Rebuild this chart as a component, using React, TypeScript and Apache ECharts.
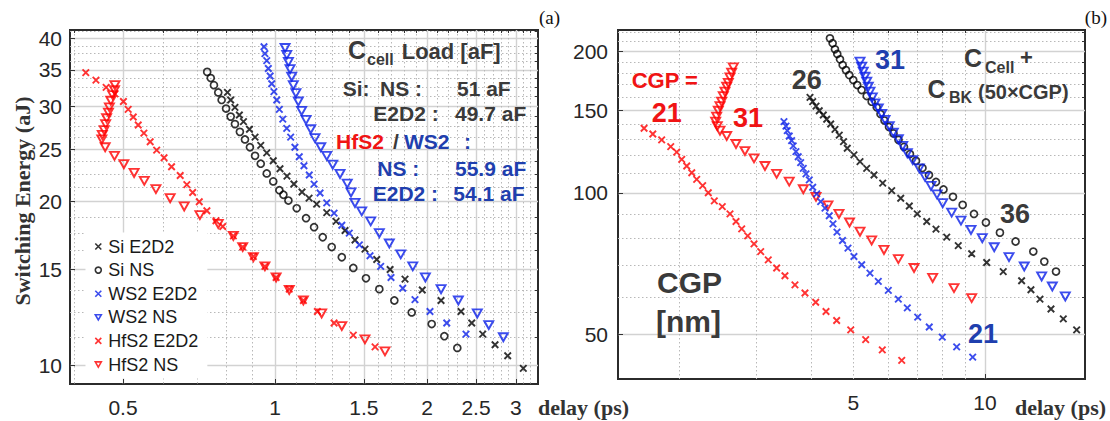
import React, { useEffect, useRef } from 'react';
import * as echarts from 'echarts';

// ---------- Panel (a): delay (ps) vs switching energy (aJ) ----------
const aSiE2D2: [number, number][] = [[0.805,31.8],[0.817,30.8],[0.833,29.85],[0.850,28.9],[0.866,28.1],[0.890,27.2],[0.913,26.3],[0.937,25.4],[0.963,24.6],[0.992,23.8],[1.023,23.0],[1.056,22.3],[1.090,21.56],[1.131,20.84],[1.168,20.31],[1.209,19.8],[1.266,19.1],[1.321,18.4],[1.376,17.7],[1.440,17.0],[1.507,16.35],[1.590,15.65],[1.690,15.0],[1.809,14.4],[1.957,13.75],[2.132,13.15],[2.335,12.55],[2.452,11.95],[2.578,11.4],[2.727,10.9],[2.889,10.4],[3.102,9.86]];
const aSiNS: [number, number][] = [[0.734,34.7],[0.746,33.8],[0.757,32.8],[0.772,31.8],[0.784,30.8],[0.800,29.7],[0.817,28.7],[0.833,27.8],[0.852,26.9],[0.872,26.05],[0.892,25.2],[0.913,24.3],[0.937,23.5],[0.963,22.55],[0.992,21.8],[1.020,21.0],[1.039,20.6],[1.063,20.1],[1.104,19.45],[1.152,18.65],[1.195,17.95],[1.243,17.2],[1.295,16.5],[1.356,15.8],[1.429,15.1],[1.514,14.45],[1.609,13.8],[1.723,13.15],[1.865,12.5],[2.043,11.9],[2.164,11.3],[2.296,10.75]];
const aWS2E2D2: [number, number][] = [[0.951,38.6],[0.955,37.5],[0.963,36.4],[0.970,35.2],[0.978,34.1],[0.985,33.0],[0.995,31.9],[1.008,30.8],[1.020,29.6],[1.036,28.4],[1.055,27.3],[1.074,26.3],[1.095,25.2],[1.117,24.2],[1.141,23.3],[1.169,22.4],[1.195,21.55],[1.228,20.75],[1.266,19.9],[1.309,19.05],[1.356,18.1],[1.403,17.5],[1.469,16.65],[1.542,15.9],[1.619,15.2],[1.697,14.5],[1.790,13.85],[1.893,13.2],[2.027,12.55],[2.188,11.95],[2.389,11.4]];
const aWS2NS: [number, number][] = [[1.047,38.4],[1.055,37.3],[1.063,36.2],[1.071,35.1],[1.079,34.0],[1.087,32.8],[1.100,31.7],[1.112,30.6],[1.129,29.4],[1.152,28.3],[1.177,27.2],[1.200,26.2],[1.232,25.2],[1.266,24.3],[1.301,23.4],[1.345,22.5],[1.390,21.6],[1.414,20.8],[1.440,19.9],[1.485,19.2],[1.547,18.4],[1.609,17.5],[1.684,16.75],[1.774,16.0],[1.874,15.2],[1.985,14.5],[2.132,13.8],[2.307,13.15],[2.515,12.45],[2.650,11.85],[2.832,11.25]];
const aHfS2E2D2: [number, number][] = [[0.422,34.6],[0.442,33.5],[0.463,32.5],[0.482,31.6],[0.501,30.6],[0.512,29.6],[0.524,28.65],[0.536,27.7],[0.550,26.75],[0.566,25.8],[0.583,24.9],[0.603,24.1],[0.624,23.2],[0.649,22.35],[0.669,21.5],[0.687,20.8],[0.708,20.0],[0.733,19.25],[0.764,18.45],[0.788,18.0],[0.827,17.3],[0.863,16.5],[0.906,15.85],[0.955,15.2],[1.005,14.5],[1.067,13.8],[1.138,13.15],[1.213,12.55],[1.309,11.95],[1.429,11.35],[1.578,10.8]];
const aHfS2NS: [number, number][] = [[0.482,32.8],[0.481,32.1],[0.477,31.45],[0.473,30.7],[0.470,29.85],[0.468,29.2],[0.464,28.5],[0.462,27.8],[0.459,27.1],[0.455,26.55],[0.454,26.05],[0.461,25.2],[0.481,24.3],[0.502,23.45],[0.526,22.6],[0.551,21.85],[0.581,21.1],[0.620,20.3],[0.661,19.6],[0.710,18.9],[0.772,18.2],[0.827,17.3],[0.863,16.5],[0.906,15.8],[0.955,15.2],[1.005,14.5],[1.067,13.75],[1.138,13.15],[1.237,12.45],[1.356,11.8],[1.507,11.15],[1.651,10.6]];

// ---------- Panel (b): delay (ps) vs energy, CGP sweep ----------
const bHfS2E2D2: [number, number][] = [[1.659,137.3],[1.737,133.5],[1.820,129.7],[1.909,125.5],[1.970,122.1],[2.023,117.9],[2.077,114.1],[2.133,110.4],[2.189,106.9],[2.259,103.6],[2.327,100.1],[2.402,96.2],[2.505,93.5],[2.609,90.2],[2.693,86.9],[2.775,83.8],[2.864,81.0],[2.961,77.9],[3.067,75.0],[3.192,72.0],[3.336,69.2],[3.485,66.6],[3.674,63.7],[3.873,61.2],[4.098,58.5],[4.327,55.9],[4.577,53.5],[4.929,51.1],[5.333,48.7],[5.821,46.3],[6.449,44.0]];
const bHfS2NS: [number, number][] = [[2.655,185.1],[2.632,180.3],[2.609,176.2],[2.586,171.6],[2.564,168.3],[2.541,164.3],[2.518,160.8],[2.497,156.4],[2.475,153.1],[2.453,149.6],[2.432,145.3],[2.419,141.8],[2.440,138.8],[2.475,135.7],[2.564,132.2],[2.693,127.1],[2.823,122.8],[2.961,118.5],[3.137,114.1],[3.336,109.8],[3.565,105.7],[3.839,101.8],[4.105,98.1],[4.372,94.1],[4.633,90.2],[4.898,86.5],[5.176,82.7],[5.504,79.2],[5.873,75.6],[6.335,72.3],[6.881,69.2],[7.591,65.9],[8.494,62.7],[9.323,59.7]];
const bWS2E2D2: [number, number][] = [[3.467,141.8],[3.504,138.8],[3.528,135.7],[3.565,132.2],[3.610,129.2],[3.641,125.9],[3.693,122.4],[3.738,119.4],[3.786,116.0],[3.839,112.8],[3.894,109.8],[3.962,106.6],[4.034,102.8],[4.120,99.5],[4.207,95.8],[4.304,92.8],[4.402,89.4],[4.489,85.9],[4.585,82.5],[4.720,79.2],[4.858,76.3],[5.013,73.2],[5.222,70.3],[5.455,67.5],[5.700,64.8],[6.009,62.0],[6.335,59.4],[6.642,56.9],[7.015,54.4],[7.456,51.8],[7.985,49.3],[8.614,47.0],[9.373,44.7]];
const bSiE2D2: [number, number][] = [[3.977,159.8],[4.034,156.4],[4.105,153.1],[4.176,149.6],[4.266,146.5],[4.343,143.5],[4.435,140.2],[4.536,136.6],[4.640,132.8],[4.745,128.6],[4.840,124.5],[5.013,120.5],[5.176,116.6],[5.362,112.8],[5.572,109.2],[5.833,104.9],[6.117,101.1],[6.415,97.4],[6.712,93.8],[6.998,90.2],[7.357,86.9],[7.725,83.7],[8.174,80.5],[8.687,77.2],[9.323,74.2],[10.09,71.1],[11.01,68.0],[12.13,65.0],[12.74,62.2],[13.36,59.4],[14.16,56.6],[15.11,53.9],[16.21,51.1]];
const bSiNS: [number, number][] = [[4.418,213.4],[4.481,208.3],[4.536,202.2],[4.592,197.6],[4.658,192.5],[4.724,187.2],[4.807,182.6],[4.891,178.2],[4.995,173.9],[5.101,169.7],[5.220,165.6],[5.362,160.8],[5.504,156.4],[5.652,152.2],[5.766,147.3],[5.889,142.6],[6.031,138.2],[6.176,133.9],[6.340,129.7],[6.526,125.3],[6.735,121.0],[6.953,117.0],[7.194,113.0],[7.444,109.2],[7.725,105.5],[8.036,101.7],[8.448,98.1],[8.891,94.3],[9.437,90.2],[10.05,86.5],[10.82,82.3],[11.75,78.8],[12.90,75.0],[13.67,71.4],[14.54,68.0]];
const bWS2NS: [number, number][] = [[5.176,190.3],[5.220,185.7],[5.265,181.2],[5.312,176.8],[5.362,172.5],[5.407,168.3],[5.455,164.3],[5.522,159.8],[5.601,155.2],[5.700,151.4],[5.803,147.3],[5.905,143.0],[6.039,138.8],[6.169,134.4],[6.335,130.1],[6.482,125.9],[6.642,121.5],[6.834,117.5],[7.075,112.8],[7.291,108.2],[7.524,103.5],[7.765,99.3],[8.003,95.1],[8.390,90.8],[8.812,87.3],[9.289,83.4],[9.859,80.1],[10.50,76.6],[11.35,73.0],[12.30,69.7],[13.48,66.4],[14.26,63.2],[15.27,60.2]];

// ---------- Ticks ----------
const aXTicks = [0.5, 1, 1.5, 2, 2.5, 3];
const aXMinor = [0.4, 0.6, 0.7, 0.8, 0.9, 1.1, 1.2, 1.3, 1.4, 1.6, 1.7, 1.8, 1.9, 2.1, 2.2, 2.3, 2.4, 2.6, 2.7, 2.8, 2.9, 3.1, 3.2];
const aYTicks = [10, 15, 20, 25, 30, 35, 40];
const aYMinor = [11.25, 12.5, 13.75, 16.25, 17.5, 18.75, 21.25, 22.5, 23.75, 26.25, 27.5, 28.75, 31.25, 32.5, 33.75, 36.25, 37.5, 38.75, 41.25];
const bXTicks = [5, 10];
const bXMajorGrid = [10];
const bXMinor = [2, 3, 4, 5, 6, 7, 8, 9];
const bYTicks = [50, 100, 150, 200];
const bYMinor = [60, 70, 80, 90, 110, 120, 130, 140, 160, 170, 180, 190, 210, 220];

const X_SYM = 'path://M0,0L10,10M10,0L0,10';
const TRI_SYM = 'path://M0,0L10,0L5,8.66Z';
const BLACK = '#000000';
const BLUE = '#0a1fe8';
const RED = '#ff0000';
const GRAY_TXT = '#3a3a3a';
const RED_TXT = '#f01414';
const BLUE_TXT = '#1f3fae';
const SANS = "'Liberation Sans', Arial, sans-serif";
const SERIF = "'Liberation Serif', 'Times New Roman', serif";
const ANN = "'Liberation Sans', Arial, sans-serif";

const fmt = (v: number) => String(Math.round(v * 100) / 100);

function majorAxis(min: number, max: number, pos: string, ticks: number[], grid: number[], gridIndex: number, margin: number) {
  return {
    type: 'log', logBase: 10, min, max, gridIndex, position: pos,
    axisLine: { show: false },
    axisTick: { show: true, inside: true, length: 5, customValues: grid, lineStyle: { color: '#333', width: 1 } },
    axisLabel: { show: true, customValues: ticks, formatter: fmt, fontSize: 21, color: '#262626', fontFamily: SANS, margin },
    splitLine: { show: true, lineStyle: { color: '#d2d2d2', width: 1.4, type: 'solid' } },
    minorTick: { show: false }, minorSplitLine: { show: false },
  };
}
function minorAxis(min: number, max: number, pos: string, minor: number[], gridIndex: number) {
  return {
    type: 'log', logBase: 10, min, max, gridIndex, position: pos,
    axisLine: { show: false },
    axisTick: { show: true, inside: true, length: 3, customValues: minor, lineStyle: { color: '#333', width: 1 } },
    axisLabel: { show: false },
    splitLine: { show: true, lineStyle: { color: '#b8b8b8', width: 1, type: [1.5, 2.5] } },
  };
}

function sc(name: string, data: [number, number][], kind: string, color: string, axis: number) {
  const symbol = kind === 'x' ? X_SYM : kind === 'tri' ? TRI_SYM : 'circle';
  const size = kind === 'x' ? 6.5 : kind === 'tri' ? [9, 8] : 7;
  return {
    type: 'scatter', name, data, symbol, symbolSize: size,
    xAxisIndex: axis, yAxisIndex: axis, silent: true, z: 3,
    itemStyle: { color: 'rgba(0,0,0,0)', borderColor: color, borderWidth: kind === 'o' ? 1.7 : 1.9 },
    emphasis: { disabled: true },
  };
}

function txt(text: string, x: number, y: number, size: number, fill: string, family = ANN, weight: any = 'bold', align = 'left') {
  return { type: 'text', x, y, z: 10, silent: true, style: { text, fontSize: size, lineHeight: size, fontFamily: family, fontWeight: weight, fill, align, verticalAlign: 'middle' } };
}

function legendItem(name: string, kind: string, color: string) {
  const icon = kind === 'x' ? X_SYM : kind === 'tri' ? TRI_SYM : 'circle';
  return { name, icon, itemStyle: { color: 'rgba(0,0,0,0)', borderColor: color, borderWidth: 1.6 } };
}

export default function App() {
  const ref = useRef<HTMLDivElement>(null);
  useEffect(() => {
    if (!ref.current) return;
    const chart = echarts.init(ref.current, null, { renderer: 'svg' });
    const option: any = {
      animation: false,
      backgroundColor: '#ffffff',
      grid: [
        { left: 70, top: 30, width: 468, height: 354, show: true, borderColor: '#2b2b2b', borderWidth: 2, outerBoundsMode: 'none', containLabel: false },
        { left: 618, top: 30, width: 467, height: 349, show: true, borderColor: '#2b2b2b', borderWidth: 2, outerBoundsMode: 'none', containLabel: false },
      ],
      xAxis: [
        majorAxis(0.3927, 3.317, 'bottom', aXTicks, aXTicks, 0, 13),
        minorAxis(0.3927, 3.317, 'top', aXMinor, 0),
        majorAxis(1.446, 16.94, 'bottom', bXTicks, bXMajorGrid, 1, 13),
        minorAxis(1.446, 16.94, 'top', bXMinor, 1),
      ],
      yAxis: [
        majorAxis(9.226, 41.45, 'left', aYTicks, aYTicks, 0, 8),
        minorAxis(9.226, 41.45, 'right', aYMinor, 0),
        majorAxis(40.15, 222.3, 'left', bYTicks, bYTicks, 1, 10),
        minorAxis(40.15, 222.3, 'right', bYMinor, 1),
      ],
      legend: {
        show: true, orient: 'vertical', left: 85.5, top: 232.5,
        padding: [5, 9, 5, 9], backgroundColor: '#ffffff', itemGap: 5.6,
        itemWidth: 6, itemHeight: 6, selectedMode: false,
        textStyle: { fontSize: 18, lineHeight: 18, color: '#1a1a1a', fontFamily: SANS, padding: [0, 0, 0, 2] },
        data: [
          legendItem('Si E2D2', 'x', BLACK),
          legendItem('Si NS', 'o', BLACK),
          legendItem('WS2 E2D2', 'x', BLUE),
          legendItem('WS2 NS', 'tri', BLUE),
          legendItem('HfS2 E2D2', 'x', RED),
          legendItem('HfS2 NS', 'tri', RED),
        ],
      },
      series: [
        sc('Si E2D2', aSiE2D2, 'x', BLACK, 0),
        sc('Si NS', aSiNS, 'o', BLACK, 0),
        sc('WS2 E2D2', aWS2E2D2, 'x', BLUE, 0),
        sc('WS2 NS', aWS2NS, 'tri', BLUE, 0),
        sc('HfS2 E2D2', aHfS2E2D2, 'x', RED, 0),
        sc('HfS2 NS', aHfS2NS, 'tri', RED, 0),
        sc('CGP21 HfS2 E2D2', bHfS2E2D2, 'x', RED, 2),
        sc('CGP31 HfS2 NS', bHfS2NS, 'tri', RED, 2),
        sc('CGP21 WS2 E2D2', bWS2E2D2, 'x', BLUE, 2),
        sc('CGP26 Si E2D2', bSiE2D2, 'x', BLACK, 2),
        sc('CGP36 Si NS', bSiNS, 'o', BLACK, 2),
        sc('CGP31 WS2 NS', bWS2NS, 'tri', BLUE, 2),
      ],
      graphic: [
        { type: 'text', x: 22, y: 201, rotation: Math.PI / 2, z: 10, silent: true, style: { text: 'Switching Energy (aJ)', fontSize: 22, fontFamily: SERIF, fontWeight: 'bold', fill: '#333', align: 'center', verticalAlign: 'middle' } },
        txt('delay (ps)', 538, 407, 22, '#333', SERIF),
        txt('delay (ps)', 1015, 407, 22, '#333', SERIF),
        txt('(a)', 560, 17, 19, '#111', SERIF, 'normal', 'right'),
        txt('(b)', 1107, 17, 19, '#111', SERIF, 'normal', 'right'),
        // panel (a) annotations
        txt('C', 348, 50, 25, GRAY_TXT),
        txt('cell', 367, 59, 16, GRAY_TXT),
        txt('Load [aF]', 401.7, 51, 22, GRAY_TXT),
        txt('Si:', 342.7, 88.3, 21, GRAY_TXT),
        txt('NS :', 380, 88.3, 21, GRAY_TXT),
        txt('51 aF', 457, 88.3, 21, GRAY_TXT),
        txt('E2D2 :', 373.3, 113.3, 21, GRAY_TXT),
        txt('49.7 aF', 455, 113.3, 21, GRAY_TXT),
        txt('HfS2', 336, 141.7, 21, RED_TXT),
        txt('/', 393, 141.7, 21, GRAY_TXT),
        txt('WS2', 404, 141.7, 21, BLUE_TXT),
        txt(':', 464, 141.7, 21, BLUE_TXT),
        txt('NS :', 377.3, 168.3, 21, BLUE_TXT),
        txt('55.9 aF', 455, 168.3, 21, BLUE_TXT),
        txt('E2D2 :', 372.7, 193.3, 21, BLUE_TXT),
        txt('54.1 aF', 453.3, 193.3, 21, BLUE_TXT),
        // panel (b) annotations
        txt('CGP =', 631.7, 80, 22, RED_TXT),
        txt('21', 651.7, 112.7, 27, RED_TXT),
        txt('31', 733, 118.3, 27, RED_TXT),
        txt('26', 791.7, 80, 27, GRAY_TXT),
        txt('31', 875, 60, 27, BLUE_TXT),
        txt('C', 964, 57.5, 25, GRAY_TXT),
        txt('Cell', 985, 67.5, 16, GRAY_TXT),
        txt('+', 1020, 57, 22, GRAY_TXT),
        txt('C', 927.5, 88.5, 25, GRAY_TXT),
        txt('BK', 949, 97.5, 16, GRAY_TXT),
        txt('(50×CGP)', 978, 91.7, 20, GRAY_TXT),
        txt('36', 1000, 214, 27, GRAY_TXT),
        txt('21', 968, 334, 27, BLUE_TXT),
        txt('CGP', 657, 282.7, 30, GRAY_TXT),
        txt('[nm]', 656, 321.7, 30, GRAY_TXT),
      ],
    };
    chart.setOption(option);
    return () => { chart.dispose(); };
  }, []);
  return <div ref={ref} style={{ position: 'absolute', left: 0, top: 0, width: 1110, height: 421 }} />;
}
